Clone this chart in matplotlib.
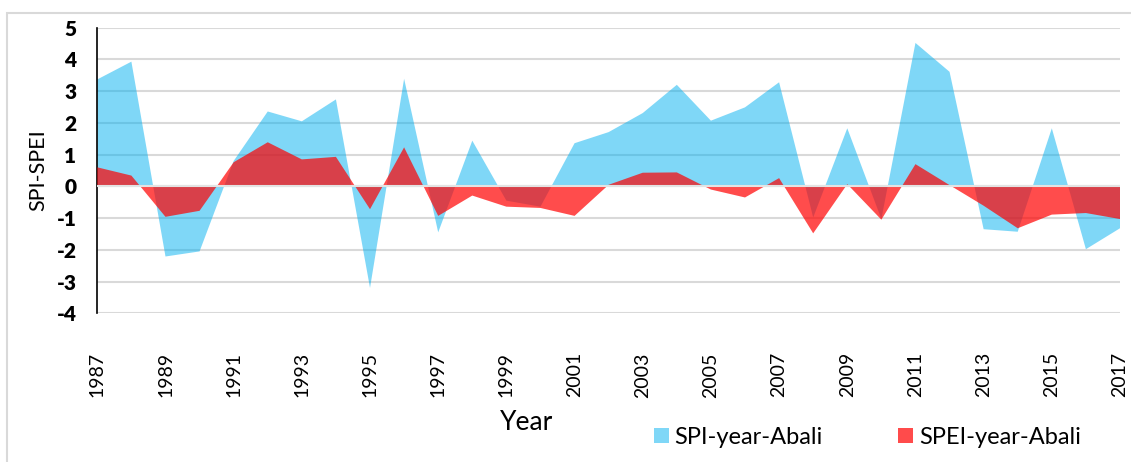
"""
plot.py

Annual SPI and SPEI drought indices for the Abali station, 1987-2017,
drawn as two overlapping filled areas.
"""

import matplotlib.pyplot as plt
from matplotlib.patches import Patch, Rectangle

years = list(range(1987, 2018))

spi = [3.37, 3.93, -2.21, -2.05, 0.8, 2.36, 2.05, 2.74, -3.2, 3.39,
       -1.45, 1.44, -0.45, -0.64, 1.36, 1.71, 2.31, 3.2, 2.07, 2.49,
       3.28, -0.98, 1.83, -1.03, 4.52, 3.61, -1.35, -1.43, 1.83, -1.98,
       -1.32]

spei = [0.6, 0.34, -0.96, -0.77, 0.76, 1.39, 0.85, 0.93, -0.72, 1.23,
        -0.93, -0.29, -0.64, -0.68, -0.93, 0.05, 0.43, 0.44, -0.1, -0.35,
        0.26, -1.48, 0.07, -1.05, 0.7, 0.04, -0.61, -1.32, -0.89, -0.84,
        -1.03]

year_ticks = list(range(1987, 2018, 2))
value_ticks = list(range(-4, 6))

plt.rcParams["font.family"] = ["Lato", "DejaVu Sans"]

fig = plt.figure(figsize=(11.31, 4.62), dpi=100)
ax = fig.add_axes([97.3 / 1131, 1 - 313.3 / 462, (1120 - 97.3) / 1131, (313.3 - 27.7) / 462])

# outer chart frame (Excel style), open to the right and bottom
fig.patches.append(Rectangle((7 / 1131, -0.05), 1.1, 1 - 13 / 462 + 0.05,
                             transform=fig.transFigure, fill=False,
                             edgecolor="#d9d9d9", linewidth=1.5, zorder=0))

ax.fill_between(years, spi, 0, facecolor="#00b0f0", alpha=0.5, linewidth=0, zorder=2)
ax.fill_between(years, spei, 0, facecolor="#ff0000", alpha=0.7, linewidth=0, zorder=3)

ax.set_xlim(1987, 2017)
ax.set_ylim(-4, 5)
ax.set_xticks(year_ticks)
ax.set_xticklabels([str(y) for y in year_ticks], rotation=90, fontsize=14)
ax.set_yticks(value_ticks)
ax.set_yticklabels([str(v) for v in value_ticks], fontsize=15, fontweight="heavy")
ax.tick_params(axis="both", length=0)
ax.tick_params(axis="y", pad=15)
ax.tick_params(axis="x", pad=28)

ax.grid(axis="y", color="#d9d9d9", linewidth=1.5, zorder=1)
ax.set_axisbelow(True)
ax.axhline(0, color="#e3e3e3", linewidth=1.5, zorder=4)

for side in ["top", "right", "bottom"]:
    ax.spines[side].set_visible(False)
ax.spines["left"].set_color("black")
ax.spines["left"].set_linewidth(1.2)

ax.set_ylabel("SPI-SPEI", fontsize=15.5, labelpad=6)
fig.text(527 / 1131, 1 - 423 / 462, "Year", fontsize=19, ha="center", va="center")

handles = [Patch(facecolor="#7fd7f7", edgecolor="none"),
           Patch(facecolor="#ff4b4b", edgecolor="none")]
fig.legend(handles, ["SPI-year-Abali", "SPEI-year-Abali"], ncol=2,
           loc="center left", bbox_to_anchor=(654 / 1131, 1 - 437 / 462),
           frameon=False, fontsize=17, handlelength=0.62, handleheight=0.62,
           handletextpad=0.25, columnspacing=3.2, borderpad=0, borderaxespad=0)

fig.savefig("out.png", dpi=100)
plt.close(fig)
